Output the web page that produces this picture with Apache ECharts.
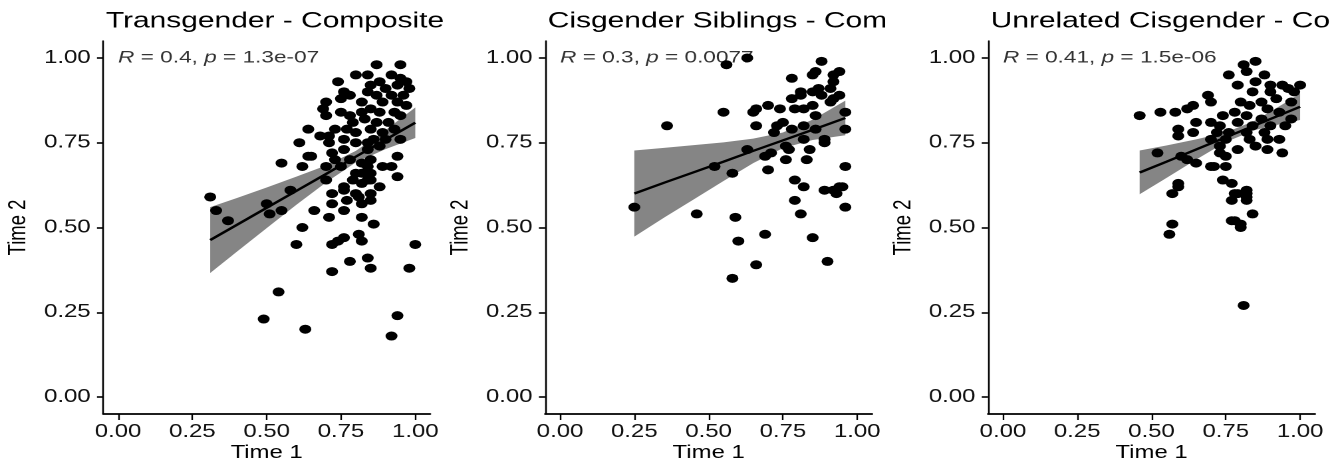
<!DOCTYPE html>
<html>
<head>
<meta charset="utf-8">
<script src="https://cdn.jsdelivr.net/npm/echarts@6.0.0/dist/echarts.min.js"></script>
<style>
  html, body { margin: 0; padding: 0; background: #fff; overflow: hidden; }
  /* the source image is stretched sideways, so draw narrow and scale */
  #main { width: 1000px; height: 458px; transform: scaleX(1.33); transform-origin: 0 0; }
</style>
</head>
<body>
<div id="main"></div>
<script>
// tick labels
const ticks = [0, 0.25, 0.5, 0.75, 1];

const titles = ['Transgender - Composite', 'Cisgender Siblings - Com', 'Unrelated Cisgender - Co'];
const stats = ['{i|R} = 0.4, {i|p} = 1.3e-07', '{i|R} = 0.3, {i|p} = 0.0077', '{i|R} = 0.41, {i|p} = 1.5e-06'];

// Transgender [time1, time2]
const transPts = [
  [0.31,0.59],[0.33,0.55],[0.37,0.52],[0.50,0.57],[0.51,0.54],[0.55,0.55],[0.58,0.61],[0.55,0.69],[0.64,0.71],[0.62,0.68],
  [0.70,0.64],[0.66,0.55],[0.62,0.50],[0.60,0.45],[0.72,0.60],[0.76,0.61],[0.72,0.57],[0.71,0.53],[0.76,0.55],[0.77,0.58],
  [0.80,0.60],[0.82,0.57],[0.85,0.58],[0.82,0.53],[0.86,0.51],[0.82,0.63],[0.85,0.64],[0.88,0.62],[0.80,0.66],[0.84,0.68],
  [0.94,0.65],[0.94,0.71],[0.92,0.68],[0.81,0.48],[0.82,0.46],[0.76,0.47],[0.74,0.46],[0.72,0.45],[0.78,0.40],[0.84,0.41],
  [0.85,0.38],[0.72,0.37],[1.00,0.45],[0.98,0.38],[0.54,0.31],[0.49,0.23],[0.63,0.20],[0.94,0.24],[0.92,0.18],
  [0.87,0.98],[0.95,0.98],[0.74,0.93],[0.80,0.95],[0.84,0.95],[0.88,0.93],[0.92,0.95],[0.95,0.94],[0.97,0.93],[0.98,0.91],
  [0.94,0.92],[0.90,0.91],[0.85,0.92],[0.84,0.90],[0.76,0.90],[0.78,0.89],[0.75,0.88],[0.82,0.87],[0.87,0.89],[0.92,0.89],
  [0.96,0.89],[0.89,0.87],[0.94,0.87],[0.97,0.86],[0.70,0.87],[0.69,0.85],[0.75,0.84],[0.82,0.84],[0.85,0.85],[0.88,0.84],
  [0.93,0.84],[0.95,0.83],[0.78,0.83],[0.79,0.81],[0.83,0.82],[0.87,0.81],[0.91,0.81],[0.73,0.79],[0.64,0.79],[0.68,0.77],
  [0.71,0.77],[0.77,0.79],[0.80,0.78],[0.85,0.79],[0.89,0.78],[0.93,0.79],[0.76,0.76],[0.86,0.76],[0.90,0.76],[0.95,0.76],
  [0.71,0.75],[0.80,0.75],[0.84,0.75],[0.88,0.74],[0.72,0.72],[0.76,0.73],[0.84,0.73],[0.73,0.70],[0.78,0.70],[0.82,0.69],
  [0.85,0.70],[0.70,0.68],[0.75,0.68],[0.89,0.68],[0.82,0.66],[0.85,0.66],[0.79,0.64],[0.84,0.64],[0.76,0.62],[0.81,0.59],
  [0.85,0.60],[0.70,0.83],[0.61,0.75],[0.65,0.71]
];
// Cisgender siblings
const sibPts = [
  [0.56,0.98],[0.63,1.00],[0.88,0.99],[0.78,0.94],[0.85,0.95],[0.86,0.96],[0.92,0.95],[0.94,0.96],[0.92,0.93],[0.81,0.90],
  [0.85,0.90],[0.87,0.91],[0.91,0.91],[0.78,0.88],[0.81,0.89],[0.88,0.89],[0.92,0.88],[0.94,0.89],[0.91,0.87],[0.70,0.86],
  [0.66,0.85],[0.65,0.84],[0.55,0.84],[0.74,0.85],[0.79,0.85],[0.82,0.85],[0.85,0.86],[0.86,0.83],[0.96,0.84],[0.36,0.80],
  [0.66,0.80],[0.75,0.81],[0.73,0.80],[0.78,0.79],[0.82,0.80],[0.72,0.78],[0.86,0.79],[0.96,0.79],[0.82,0.76],[0.89,0.76],
  [0.89,0.75],[0.76,0.74],[0.63,0.73],[0.77,0.73],[0.84,0.73],[0.71,0.72],[0.69,0.71],[0.76,0.70],[0.83,0.70],[0.52,0.68],
  [0.58,0.66],[0.70,0.67],[0.96,0.68],[0.79,0.64],[0.82,0.62],[0.89,0.61],[0.94,0.62],[0.92,0.61],[0.79,0.58],[0.81,0.54],
  [0.96,0.56],[0.25,0.56],[0.46,0.54],[0.59,0.53],[0.95,0.62],[0.93,0.60],[0.69,0.48],[0.60,0.46],[0.85,0.47],[0.66,0.39],
  [0.90,0.40],[0.58,0.35]
];
// Unrelated cisgender
const unrelPts = [
  [0.81,0.98],[0.85,0.99],[0.82,0.96],[0.76,0.95],[0.88,0.95],[0.79,0.92],[0.85,0.93],[0.90,0.92],[0.94,0.92],[1.00,0.92],
  [0.96,0.91],[0.84,0.90],[0.90,0.90],[0.98,0.90],[0.69,0.89],[0.70,0.87],[0.64,0.86],[0.62,0.85],[0.58,0.84],[0.53,0.84],
  [0.46,0.83],[0.80,0.87],[0.87,0.87],[0.92,0.88],[0.97,0.87],[0.83,0.86],[0.89,0.85],[0.78,0.84],[0.93,0.84],[0.74,0.83],
  [0.82,0.83],[0.87,0.82],[0.97,0.82],[0.65,0.81],[0.70,0.81],[0.73,0.80],[0.79,0.81],[0.84,0.80],[0.90,0.80],[0.95,0.80],
  [0.59,0.79],[0.64,0.78],[0.72,0.78],[0.76,0.78],[0.82,0.78],[0.88,0.78],[0.59,0.77],[0.70,0.76],[0.75,0.76],[0.83,0.76],
  [0.89,0.76],[0.93,0.76],[0.73,0.74],[0.79,0.73],[0.85,0.74],[0.89,0.73],[0.94,0.72],[0.52,0.72],[0.62,0.70],[0.65,0.69],
  [0.75,0.71],[0.70,0.68],[0.71,0.68],[0.75,0.68],[0.59,0.62],[0.57,0.60],[0.74,0.64],[0.77,0.63],[0.79,0.60],[0.82,0.60],
  [0.73,0.72],[0.60,0.71],[0.82,0.59],[0.84,0.54],[0.78,0.52],[0.80,0.51],[0.57,0.51],[0.78,0.60],[0.82,0.61],[0.77,0.58],
  [0.82,0.58],[0.77,0.52],[0.56,0.48],[0.80,0.50],[0.81,0.27],[0.59,0.63]
];

// regression line and confidence band
const transFitX = [0.31, 0.40, 0.50, 0.60, 0.70, 0.80, 0.90, 1.00];
const transFit  = [0.463, 0.508, 0.558, 0.608, 0.658, 0.709, 0.759, 0.809];
const transLo   = [0.366, 0.429, 0.498, 0.567, 0.633, 0.692, 0.731, 0.764];
const transHi   = [0.560, 0.587, 0.618, 0.650, 0.683, 0.726, 0.787, 0.854];

const sibFitX = [0.25, 0.35, 0.45, 0.55, 0.65, 0.75, 0.85, 0.96];
const sibFit  = [0.600, 0.632, 0.663, 0.694, 0.726, 0.757, 0.788, 0.823];
const sibLo   = [0.473, 0.529, 0.583, 0.637, 0.690, 0.734, 0.758, 0.772];
const sibHi   = [0.727, 0.735, 0.743, 0.751, 0.762, 0.780, 0.818, 0.874];

const unrelFitX = [0.46, 0.55, 0.65, 0.75, 0.85, 0.95, 1.00];
const unrelFit  = [0.662, 0.694, 0.730, 0.766, 0.802, 0.838, 0.856];
const unrelLo   = [0.598, 0.646, 0.700, 0.752, 0.788, 0.808, 0.817];
const unrelHi   = [0.727, 0.742, 0.760, 0.780, 0.816, 0.868, 0.895];

const panels = [
  { pts: transPts, fx: transFitX, fy: transFit, lo: transLo, hi: transHi },
  { pts: sibPts, fx: sibFitX, fy: sibFit, lo: sibLo, hi: sibHi },
  { pts: unrelPts, fx: unrelFitX, fy: unrelFit, lo: unrelLo, hi: unrelHi }
];

const font = '"Liberation Sans", Arial, Helvetica, sans-serif';
const gridLeft = [77.6, 409.9, 742.9];

let myChart = echarts.init(document.getElementById('main'), null, { renderer: 'canvas', devicePixelRatio: 2 });

let grid = [], xAxis = [], yAxis = [], title = [], series = [];

panels.forEach(function (p, i) {
  grid.push({ left: gridLeft[i], top: 41, width: 245.8, height: 373, outerBoundsMode: 'none', containLabel: false });
  title.push({
    text: titles[i], left: gridLeft[i] + 2, top: 10, padding: 0,
    textStyle: { fontFamily: font, fontSize: 22.5, fontWeight: 'normal', color: '#000' }
  });
  xAxis.push({
    gridIndex: i, type: 'value', min: -0.05, max: 1.05,
    name: 'Time 1', nameLocation: 'middle', nameGap: 30, nameMoveOverlap: false,
    nameTextStyle: { fontFamily: font, fontSize: 18, color: '#000' },
    axisLine: { onZero: false, lineStyle: { color: '#000', width: 1.7 } },
    axisTick: { show: true, length: 6, customValues: ticks, lineStyle: { color: '#000', width: 1.2 } },
    axisLabel: { customValues: ticks, formatter: function (v) { return v.toFixed(2); },
      fontFamily: font, fontSize: 18, color: '#111', margin: 9 },
    splitLine: { show: false }
  });
  yAxis.push({
    gridIndex: i, type: 'value', min: -0.05, max: 1.05,
    name: 'Time 2', nameLocation: 'middle', nameGap: 54, nameMoveOverlap: false,
    nameTextStyle: { fontFamily: font, fontSize: 18.5, color: '#000' },
    axisLine: { onZero: false, lineStyle: { color: '#000', width: 1.3 } },
    axisTick: { show: true, length: 4.7, customValues: ticks, lineStyle: { color: '#000', width: 1.6 } },
    axisLabel: { customValues: ticks, formatter: function (v) { return v.toFixed(2); },
      fontFamily: font, fontSize: 18, color: '#111', margin: 9.5 },
    splitLine: { show: false }
  });

  // confidence band
  series.push({
    type: 'custom', xAxisIndex: i, yAxisIndex: i, z: 1, silent: true,
    data: [[p.fx[0], p.lo[0]]],
    renderItem: function (params, api) {
      let pts = [];
      for (let k = 0; k < p.fx.length; k++) pts.push(api.coord([p.fx[k], p.hi[k]]));
      for (let k = p.fx.length - 1; k >= 0; k--) pts.push(api.coord([p.fx[k], p.lo[k]]));
      return { type: 'polygon', shape: { points: pts }, style: { fill: '#858585' } };
    }
  });
  // points
  series.push({
    type: 'scatter', xAxisIndex: i, yAxisIndex: i, z: 2,
    symbolSize: 9, itemStyle: { color: '#000', opacity: 1 },
    data: p.pts
  });
  // regression line
  series.push({
    type: 'line', xAxisIndex: i, yAxisIndex: i, z: 3,
    showSymbol: false, symbol: 'none',
    lineStyle: { color: '#000', width: 2.3 },
    data: p.fx.map(function (x, k) { return [x, p.fy[k]]; })
  });
  // R / p label anchored at (0, 1)
  series.push({
    type: 'scatter', xAxisIndex: i, yAxisIndex: i, z: 4, symbolSize: 0, silent: true,
    data: [[0, 1]],
    label: {
      show: true, position: 'right', distance: 0, formatter: stats[i],
      fontFamily: font, fontSize: 17, color: '#000',
      rich: { i: { fontFamily: font, fontSize: 17, fontStyle: 'italic', color: '#000' } }
    }
  });
});

myChart.setOption({
  animation: false,
  backgroundColor: '#fff',
  title: title,
  grid: grid,
  xAxis: xAxis,
  yAxis: yAxis,
  series: series
});
</script>
</body>
</html>
